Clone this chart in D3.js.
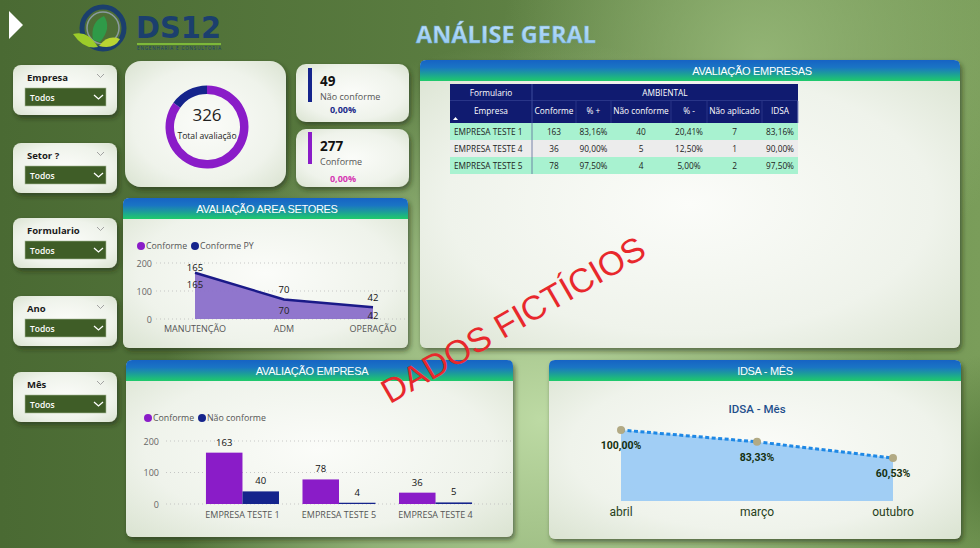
<!DOCTYPE html>
<html><head><meta charset="utf-8">
<script src="https://cdn.jsdelivr.net/npm/d3@7"></script>
<style>html,body{margin:0;padding:0;overflow:hidden;background:#5a7b42}svg{display:block}</style>
</head><body><svg id="c" width="980" height="548"></svg>
<script>
// ---------------- DATA ----------------
const filterLabels = ["Empresa", "Setor ?", "Formulario", "Ano", "Mês"];
const filterValue = "Todos";
const donutLabels = ["Conforme", "Não conforme"];
const donutValues = [277, 49];
const totalAvaliacao = 326;
const kpiValues = [49, 277];
const kpiLabels = ["Não conforme", "Conforme"];
const kpiPercents = ["0,00%", "0,00%"];
const tableGroupHeader = ["Formulario", "AMBIENTAL"];
const tableColumns = ["Empresa", "Conforme", "% +", "Não conforme", "% -", "Não aplicado", "IDSA"];
const tableEmpresas = ["EMPRESA TESTE 1", "EMPRESA TESTE 4", "EMPRESA TESTE 5"];
const tableConforme = [163, 36, 78];
const tablePctPlus = ["83,16%", "90,00%", "97,50%"];
const tableNaoConforme = [40, 5, 4];
const tablePctMinus = ["20,41%", "12,50%", "5,00%"];
const tableNaoAplicado = [7, 1, 2];
const tableIdsa = ["83,16%", "90,00%", "97,50%"];
const setores = ["MANUTENÇÃO", "ADM", "OPERAÇÃO"];
const setorConforme = [165, 70, 42];
const setorConformePY = [165, 70, 42];
const setorLegend = ["Conforme", "Conforme PY"];
const empresas = ["EMPRESA TESTE 1", "EMPRESA TESTE 5", "EMPRESA TESTE 4"];
const empConforme = [163, 78, 36];
const empNaoConforme = [40, 4, 5];
const empLegend = ["Conforme", "Não conforme"];
const meses = ["abril", "março", "outubro"];
const idsaMes = [100, 83.33, 60.53];
const idsaLabels = ["100,00%", "83,33%", "60,53%"];
const countTicks = [0, 100, 200];

// ---------------- SETUP ----------------
const FONT = "'Open Sans', 'Noto Sans', sans-serif";
const PURPLE = "#8a1cc8", NAVY = "#15248c";
const svg = d3.select("#c");
const defs = svg.append("defs");

function linGrad(id, stops, x2 = 1, y2 = 0) {
  const g = defs.append("linearGradient").attr("id", id)
    .attr("x1", 0).attr("y1", 0).attr("x2", x2).attr("y2", y2);
  stops.forEach(s => g.append("stop").attr("offset", s[0]).attr("stop-color", s[1]).attr("stop-opacity", s[2] == null ? 1 : s[2]));
}
function radGrad(id, stops, opts = {}) {
  const g = defs.append("radialGradient").attr("id", id);
  Object.entries(opts).forEach(([k, v]) => g.attr(k, v));
  stops.forEach(s => g.append("stop").attr("offset", s[0]).attr("stop-color", s[1]).attr("stop-opacity", s[2] == null ? 1 : s[2]));
}
linGrad("bgH", [[0, "#4a6a33"], [0.45, "#5a7c40"], [1, "#7a9d5a"]]);
radGrad("bgGlow", [[0, "#bddaa4", 1], [0.55, "#a9c98e", 0.7], [1, "#a9c98e", 0]],
  { gradientUnits: "userSpaceOnUse", cx: 540, cy: 420, r: 380 });
radGrad("bgGlow2", [[0, "#9cbd7e", 0.8], [1, "#9cbd7e", 0]],
  { gradientUnits: "userSpaceOnUse", cx: 760, cy: 60, r: 260 });
radGrad("bgDark", [[0, "#4f7335", 0.9], [1, "#4f7335", 0]],
  { gradientUnits: "userSpaceOnUse", cx: 1010, cy: 470, r: 120 });
radGrad("cardG", [[0, "#fbfcf9"], [0.6, "#eff3eb"], [1, "#d6e0cc"]], { cx: "50%", cy: "50%", r: "75%" });
linGrad("bandG", [[0, "#1663c4"], [0.35, "#1a74c4"], [1, "#1fcb6a"]], 0, 1);
linGrad("titleG", [[0, "#c9e6fb"], [1, "#8cc4ef"]], 0, 1);

const shadow = defs.append("filter").attr("id", "sh").attr("x", "-10%").attr("y", "-10%").attr("width", "130%").attr("height", "140%");
shadow.append("feDropShadow").attr("dx", 2).attr("dy", 3).attr("stdDeviation", 2.5)
  .attr("flood-color", "#1c2a10").attr("flood-opacity", 0.55);

// background
svg.append("rect").attr("width", 980).attr("height", 548).attr("fill", "url(#bgH)");
svg.append("rect").attr("width", 980).attr("height", 548).attr("fill", "url(#bgGlow2)");
svg.append("rect").attr("width", 980).attr("height", 548).attr("fill", "url(#bgGlow)");
svg.append("rect").attr("width", 980).attr("height", 548).attr("fill", "url(#bgDark)");

function card(x, y, w, h, r) {
  return svg.append("rect").attr("x", x).attr("y", y).attr("width", w).attr("height", h)
    .attr("rx", r).attr("fill", "url(#cardG)").attr("filter", "url(#sh)");
}
function band(x, y, w, h, title, tx) {
  const r = 6;
  svg.append("path").attr("d",
    `M${x},${y + h}V${y + r}Q${x},${y} ${x + r},${y}H${x + w - r}Q${x + w},${y} ${x + w},${y + r}V${y + h}Z`)
    .attr("fill", "url(#bandG)");
  svg.append("text").attr("x", tx).attr("y", y + h / 2 + 4).attr("text-anchor", "middle")
    .attr("font-family", "'Liberation Sans', Arial, sans-serif").attr("font-size", 11).attr("letter-spacing", -0.3)
    .attr("fill", "#fff").text(title);
}
function chartCard(x, y, w, h, title, tx) {
  card(x, y, w, h, 6);
  band(x, y, w, 21, title, tx);
}
function txt(x, y, s, size, fill, opts = {}) {
  const t = svg.append("text").attr("x", x).attr("y", y).attr("font-family", opts.font || FONT)
    .attr("font-size", size).attr("fill", fill).text(s);
  if (opts.anchor) t.attr("text-anchor", opts.anchor);
  if (opts.weight) t.attr("font-weight", opts.weight);
  return t;
}

// ---------------- HEADER ----------------
svg.append("path").attr("d", "M9,11L23,25L9,39Z").attr("fill", "#fff");
const lg = svg.append("g");
lg.append("circle").attr("cx", 103).attr("cy", 28).attr("r", 21).attr("fill", "none").attr("stroke", "#1b3f6d").attr("stroke-width", 5);
lg.append("circle").attr("cx", 103).attr("cy", 28).attr("r", 16).attr("fill", "none").attr("stroke", "#8a9aa0").attr("stroke-width", 1.5);
lg.append("path").attr("d", "M93,40Q90,22 104,16Q112,28 100,42Z").attr("fill", "#2f9a48");
lg.append("path").attr("d", "M73,34Q88,30 98,47Q84,50 73,34Z").attr("fill", "#9ccc2a");
lg.append("path").attr("d", "M99,46Q108,34 120,39Q114,50 99,46Z").attr("fill", "#b8d432");
txt(136, 38, "DS12", 31, "#1b3f6d", { weight: "bold", font: "'DejaVu Sans', sans-serif" }).attr("textLength", 85).attr("lengthAdjust", "spacingAndGlyphs");
svg.append("rect").attr("x", 137).attr("y", 43).attr("width", 84).attr("height", 2).attr("fill", "#7db83a");
txt(137, 50, "ENGENHARIA E CONSULTORIA", 4.5, "#1b3f6d").attr("textLength", 84);
txt(506, 43, "ANÁLISE GERAL", 24, "url(#titleG)", { anchor: "middle", weight: "bold" })
  .attr("textLength", 180).attr("lengthAdjust", "spacingAndGlyphs")
  .attr("stroke", "#6aa6d8").attr("stroke-width", 0.3);

// ---------------- FILTERS ----------------
const filterY = [65, 143, 218, 296, 372];
filterLabels.forEach((lab, i) => {
  const y = filterY[i];
  card(13, y, 104, 50, 8);
  txt(27, y + 16, lab, 9.5, "#1a1a1a", { weight: "bold" });
  svg.append("path").attr("d", `M97,${y + 9}l3.5,3.5l3.5,-3.5`).attr("fill", "none").attr("stroke", "#999").attr("stroke-width", 0.9);
  svg.append("rect").attr("x", 25).attr("y", y + 23).attr("width", 81).attr("height", 18)
    .attr("fill", "#3f5d27").attr("stroke", "#a9bb98").attr("stroke-width", 0.6);
  txt(30, y + 36, filterValue, 8.5, "#fff", { weight: 600 });
  svg.append("path").attr("d", `M94,${y + 30}l4.5,4l4.5,-4`).attr("fill", "none").attr("stroke", "#fff").attr("stroke-width", 1.3);
});

// ---------------- DONUT ----------------
card(125, 61, 161, 126, 16);
const pie = d3.pie().sort(null).value(d => d)(donutValues);
const arc = d3.arc().innerRadius(33).outerRadius(41.5);
svg.append("g").attr("transform", "translate(207,127)").selectAll("path").data(pie).join("path")
  .attr("d", arc).attr("fill", (d, i) => i === 0 ? PURPLE : NAVY);
txt(207, 121, String(totalAvaliacao), 17, "#222", { anchor: "middle" });
txt(207, 139, "Total avaliação", 8.6, "#222", { anchor: "middle" });

// ---------------- KPI CARDS ----------------
const kpiY = [64, 129];
const kpiColors = [NAVY, PURPLE];
const kpiPctColors = ["#1b2a8a", "#d634b2"];
kpiValues.forEach((v, i) => {
  const y = kpiY[i];
  card(296, y, 113, 58, 10);
  svg.append("rect").attr("x", 308).attr("y", y + (i ? 3 : 4)).attr("width", 4).attr("height", i ? 32 : 34).attr("fill", kpiColors[i]);
  txt(320, y + 22, String(v), 13.5, "#111", { weight: "bold" });
  txt(320, y + 36, kpiLabels[i], 9, "#555");
  txt(343, y + (i ? 53 : 49), kpiPercents[i], 9, kpiPctColors[i], { anchor: "middle", weight: "bold" });
});

// ---------------- TABLE ----------------
chartCard(420, 60, 540, 288, "AVALIAÇÃO EMPRESAS", 752);
const colEdges = [450, 532, 576, 611, 671, 707, 762, 798];
const colMid = i => (colEdges[i] + colEdges[i + 1]) / 2;
const rowScale = d3.scaleBand().domain(tableEmpresas).range([123, 174]);
const HDR = "#101b70";
svg.append("rect").attr("x", 450).attr("y", 84).attr("width", 348).attr("height", 39).attr("fill", HDR);
svg.append("line").attr("x1", 532).attr("x2", 532).attr("y1", 84).attr("y2", 123).attr("stroke", "#4a58a8").attr("stroke-width", 0.8);
svg.append("line").attr("x1", 450).attr("x2", 798).attr("y1", 100.5).attr("y2", 100.5).attr("stroke", "#3a4898").attr("stroke-width", 0.6);
for (let i = 2; i < 7; i++) svg.append("line").attr("x1", colEdges[i]).attr("x2", colEdges[i]).attr("y1", 101).attr("y2", 123).attr("stroke", "#3a4898").attr("stroke-width", 0.6);
svg.append("line").attr("x1", 798).attr("x2", 798).attr("y1", 101).attr("y2", 123).attr("stroke", "#8a94c8").attr("stroke-width", 1);
txt(colMid(0), 95.5, tableGroupHeader[0], 8.3, "#fff", { anchor: "middle" });
txt((532 + 798) / 2, 95.5, tableGroupHeader[1], 8.3, "#fff", { anchor: "middle" });
tableColumns.forEach((c, i) => txt(colMid(i), 113.5, c, 8.3, "#fff", { anchor: "middle" }));
svg.append("path").attr("d", "M453,120l2.5,-3l2.5,3Z").attr("fill", "#fff");
const tableCols = [tableEmpresas, tableConforme, tablePctPlus, tableNaoConforme, tablePctMinus, tableNaoAplicado, tableIdsa];
tableEmpresas.forEach((e, r) => {
  const y = rowScale(e), h = rowScale.bandwidth();
  svg.append("rect").attr("x", 450).attr("y", y).attr("width", 348).attr("height", h)
    .attr("fill", r === 1 ? "#ececec" : "#a8f2d0");
  tableCols.forEach((col, c) => {
    txt(c === 0 ? 454 : colMid(c), y + h / 2 + 3, String(col[r]), 8.3, "#222", { anchor: c === 0 ? "start" : "middle" });
  });
});
svg.append("line").attr("x1", 532).attr("x2", 532).attr("y1", 123).attr("y2", 174).attr("stroke", "#5a6a9a").attr("stroke-width", 0.8);

// ---------------- AREA CHART (SETORES) ----------------
chartCard(123, 198, 285, 150, "AVALIAÇÃO AREA SETORES", 267);
{
  const x = d3.scalePoint().domain(setores).range([195, 373]);
  const y = d3.scaleLinear().domain([0, 200]).range([319, 263]);
  const g = svg.append("g");
  countTicks.forEach(t => {
    g.append("line").attr("x1", 156).attr("x2", 405).attr("y1", y(t)).attr("y2", y(t))
      .attr("stroke", "#bbb").attr("stroke-width", 0.8).attr("stroke-dasharray", "1,3");
    txt(152, y(t) + 3.5, String(t), 9, "#666", { anchor: "end" });
  });
  const data = setores.map((s, i) => ({ s, v: setorConforme[i], p: setorConformePY[i] }));
  g.append("path").datum(data).attr("fill", "#8a6fca").attr("fill-opacity", 0.95)
    .attr("d", d3.area().x(d => x(d.s)).y0(y(0)).y1(d => y(d.v)));
  g.append("path").datum(data).attr("fill", "none").attr("stroke", "#1a1a88").attr("stroke-width", 2.5)
    .attr("d", d3.line().x(d => x(d.s)).y(d => y(d.p)));
  data.forEach(d => {
    txt(x(d.s), y(d.v) - (d.v > 150 ? 2 : 6), String(d.v), 9.5, "#111", { anchor: "middle" });
    txt(x(d.s), Math.min(y(d.p) + 15, 318.5), String(d.p), 9.5, "#222", { anchor: "middle" });
  });
  setores.forEach(s => txt(x(s), 332, s, 9, "#555", { anchor: "middle" }));
  const lx = [141, 195];
  setorLegend.forEach((l, i) => {
    g.append("circle").attr("cx", lx[i]).attr("cy", 246).attr("r", 4).attr("fill", i ? NAVY : PURPLE);
    txt(lx[i] + 5, 249.3, l, 8.8, "#555");
  });
}

// ---------------- BAR CHART (EMPRESA) ----------------
chartCard(126, 360, 387, 177, "AVALIAÇÃO EMPRESA", 312);
{
  const x0 = d3.scaleBand().domain(empresas).range([177, 501]).paddingInner(0.2435).paddingOuter(0.3);
  const x1 = d3.scaleBand().domain(empLegend).range([0, x0.bandwidth()]);
  const y = d3.scaleLinear().domain([0, 200]).range([504, 441]);
  const g = svg.append("g");
  countTicks.forEach(t => {
    g.append("line").attr("x1", 166).attr("x2", 511).attr("y1", y(t)).attr("y2", y(t))
      .attr("stroke", "#bbb").attr("stroke-width", 0.8).attr("stroke-dasharray", "1,3");
    txt(159, y(t) + 3.5, String(t), 9, "#666", { anchor: "end" });
  });
  const series = [empConforme, empNaoConforme];
  empresas.forEach((e, i) => {
    series.forEach((s, k) => {
      const bx = x0(e) + x1(empLegend[k]);
      g.append("rect").attr("x", bx).attr("y", y(s[i])).attr("width", x1.bandwidth())
        .attr("height", y(0) - y(s[i])).attr("fill", k ? NAVY : PURPLE);
      txt(bx + x1.bandwidth() / 2, y(s[i]) - 7, String(s[i]), 9.5, "#111", { anchor: "middle" });
    });
    txt(x0(e) + x0.bandwidth() / 2, 518, e, 9, "#555", { anchor: "middle" });
  });
  const lx = [148, 202];
  empLegend.forEach((l, i) => {
    g.append("circle").attr("cx", lx[i]).attr("cy", 418).attr("r", 4).attr("fill", i ? NAVY : PURPLE);
    txt(lx[i] + 5, 421.3, l, 8.8, "#555");
  });
}

// ---------------- IDSA - MÊS ----------------
chartCard(549, 360, 412, 179, "IDSA - MÊS", 765);
{
  const x = d3.scalePoint().domain(meses).range([621, 893]);
  const y = d3.scaleLinear().domain([0, 100]).range([501, 430]);
  const g = svg.append("g");
  txt(757, 413, "IDSA - Mês", 11.5, "#1e4f8c", { anchor: "middle", weight: 500, font: "Roboto, sans-serif" });
  const data = meses.map((m, i) => ({ m, v: idsaMes[i], l: idsaLabels[i] }));
  g.append("path").datum(data).attr("fill", "#9ccbf4").attr("fill-opacity", 0.95)
    .attr("d", d3.area().x(d => x(d.m)).y0(y(0)).y1(d => y(d.v)));
  g.append("path").datum(data).attr("fill", "none").attr("stroke", "#1e88e5").attr("stroke-width", 3)
    .attr("stroke-dasharray", "4,2.5").attr("d", d3.line().x(d => x(d.m)).y(d => y(d.v)));
  data.forEach(d => {
    g.append("circle").attr("cx", x(d.m)).attr("cy", y(d.v)).attr("r", 4).attr("fill", "#b2aa84");
    txt(x(d.m), y(d.v) + 19, d.l, 10.5, "#15300f", { anchor: "middle", weight: "bold", font: "Roboto, sans-serif" });
    txt(x(d.m), 516, d.m, 12, "#26401a", { anchor: "middle", font: "Roboto, sans-serif" });
  });
}

// ---------------- WATERMARK ----------------
svg.append("text").attr("transform", "translate(519,330) rotate(-30)")
  .attr("text-anchor", "middle").attr("font-family", "'Liberation Sans', Arial, sans-serif")
  .attr("font-size", 34).attr("fill", "#e8282c").text("DADOS FICTÍCIOS");
</script></body></html>
